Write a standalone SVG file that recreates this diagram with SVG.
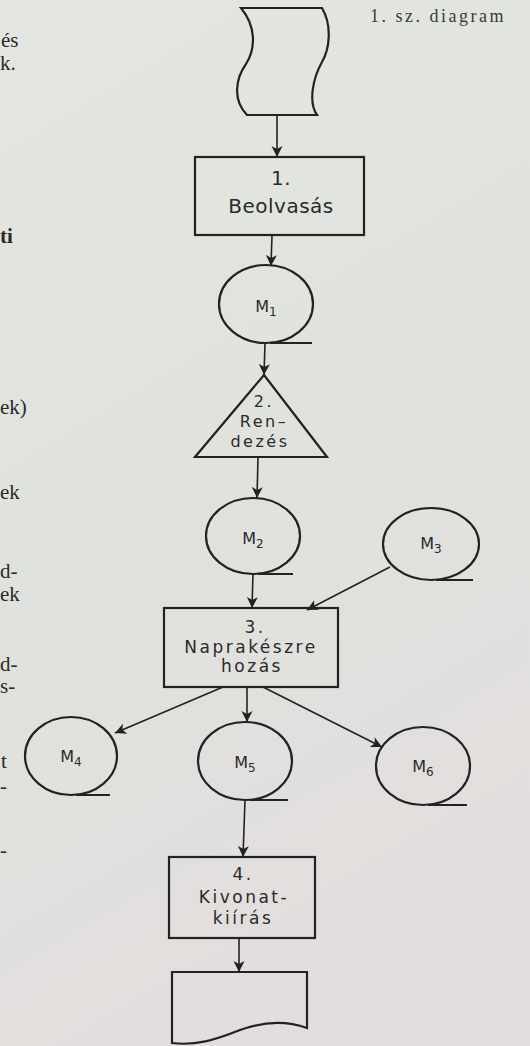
<svg xmlns="http://www.w3.org/2000/svg" width="530" height="1046" viewBox="0 0 530 1046">
<defs>
<linearGradient id="paper" x1="0" y1="0" x2="0.3" y2="1">
<stop offset="0" stop-color="#e4e6e2"/>
<stop offset="0.5" stop-color="#e0e2de"/>
<stop offset="1" stop-color="#e2dedd"/>
</linearGradient>
<marker id="ah" markerWidth="12" markerHeight="12" refX="11" refY="6" orient="auto" markerUnits="userSpaceOnUse">
<path d="M0,0.5 L11,6 L0,11.5 L3,6 Z" fill="#222"/>
</marker>
<style>
.sh{fill:none;stroke:#222;stroke-width:2.2;stroke-linejoin:miter}
.cn{fill:none;stroke:#222;stroke-width:1.6;marker-end:url(#ah)}
.lb{font-family:"DejaVu Sans",sans-serif;fill:#2a2a2a;text-anchor:middle;font-size:17px;letter-spacing:2.5px}
.big{font-size:20px;letter-spacing:0.5px}
.tri{font-size:16px}
.mm{font-family:"DejaVu Sans",sans-serif;fill:#2a2a2a;text-anchor:middle;font-size:16px}
.sub{font-size:12px}
.bk{font-family:"Liberation Serif",serif;fill:#2a2a2a;font-size:21px}
.cap{font-family:"Liberation Serif",serif;fill:#3a3a3a;font-size:18px;letter-spacing:2.5px}
</style>
</defs>
<rect width="530" height="1046" fill="url(#paper)"/>
<g id="margin-text" class="bk">
<text x="1" y="47">és</text>
<text x="0" y="70">k.</text>
<text x="0" y="243" font-weight="bold">ti</text>
<text x="0" y="414">ek)</text>
<text x="0" y="499">ek</text>
<text x="0" y="578">d-</text>
<text x="0" y="601">ek</text>
<text x="0" y="671">d-</text>
<text x="0" y="693">s-</text>
<text x="1" y="768">t</text>
<text x="0" y="793">-</text>
<text x="0" y="857">-</text>
</g>
<text id="caption" class="cap" x="370" y="22">1. sz. diagram</text>
<g id="connectors">
<line class="cn" x1="277" y1="115" x2="277" y2="157"/>
<line class="cn" x1="272" y1="235" x2="271" y2="266"/>
<line class="cn" x1="265" y1="343" x2="264" y2="375"/>
<line class="cn" x1="258" y1="457" x2="257" y2="498"/>
<line class="cn" x1="253" y1="574" x2="252" y2="608"/>
<line class="cn" x1="390" y1="567" x2="307" y2="610"/>
<line class="cn" x1="223" y1="687" x2="115" y2="733"/>
<line class="cn" x1="247" y1="687" x2="247" y2="722"/>
<line class="cn" x1="263" y1="687" x2="382" y2="747"/>
<line class="cn" x1="245" y1="800" x2="243" y2="857"/>
<line class="cn" x1="239" y1="938" x2="239" y2="972"/>
</g>
<g id="tape">
<path class="sh" d="M241,8 L322,8 C332,25 330,48 322,62 C313,78 308,102 317,115 L247,115 C232,100 236,78 246,64 C256,48 256,26 241,8 Z"/>
</g>
<g id="n1">
<rect class="sh" x="195" y="157" width="169" height="78"/>
<text class="lb big" x="281" y="185">1.</text>
<text class="lb big" x="281" y="213">Beolvasás</text>
</g>
<g id="m1">
<ellipse class="sh" cx="266" cy="304" rx="47" ry="39"/>
<line class="sh" x1="270" y1="343" x2="312" y2="343"/>
<text class="mm" x="266" y="312">M<tspan class="sub" dy="4">1</tspan></text>
</g>
<g id="n2">
<path class="sh" d="M264,375 L327,457 L195,457 Z"/>
<text class="lb tri" x="264" y="407">2.</text>
<text class="lb tri" x="264" y="427">Ren–</text>
<text class="lb tri" x="260" y="447">dezés</text>
</g>
<g id="m2">
<ellipse class="sh" cx="253" cy="536" rx="47" ry="38"/>
<line class="sh" x1="258" y1="574" x2="293" y2="574"/>
<text class="mm" x="253" y="544">M<tspan class="sub" dy="4">2</tspan></text>
</g>
<g id="m3">
<ellipse class="sh" cx="431" cy="544" rx="48" ry="36"/>
<line class="sh" x1="436" y1="580" x2="473" y2="580"/>
<text class="mm" x="431" y="549">M<tspan class="sub" dy="4">3</tspan></text>
</g>
<g id="n3">
<rect class="sh" x="164" y="608" width="174" height="79"/>
<text class="lb" x="255" y="633">3.</text>
<text class="lb" x="251" y="653">Naprakészre</text>
<text class="lb" x="252" y="672">hozás</text>
</g>
<g id="m4">
<ellipse class="sh" cx="71" cy="756" rx="46" ry="39"/>
<line class="sh" x1="76" y1="795" x2="110" y2="795"/>
<text class="mm" x="71" y="762">M<tspan class="sub" dy="4">4</tspan></text>
</g>
<g id="m5">
<ellipse class="sh" cx="245" cy="761" rx="47" ry="39"/>
<line class="sh" x1="250" y1="800" x2="288" y2="800"/>
<text class="mm" x="245" y="768">M<tspan class="sub" dy="4">5</tspan></text>
</g>
<g id="m6">
<ellipse class="sh" cx="423" cy="766" rx="47" ry="39"/>
<line class="sh" x1="428" y1="805" x2="467" y2="805"/>
<text class="mm" x="423" y="772">M<tspan class="sub" dy="4">6</tspan></text>
</g>
<g id="n4">
<rect class="sh" x="169" y="857" width="146" height="81"/>
<text class="lb" x="243" y="880">4.</text>
<text class="lb" x="244" y="903">Kivonat-</text>
<text class="lb" x="243" y="924">kiírás</text>
</g>
<g id="doc">
<path class="sh" d="M172,972 L307,972 L307,1028 C285,1020 262,1022 240,1030 C215,1040 195,1046 172,1043 Z"/>
</g>
</svg>
